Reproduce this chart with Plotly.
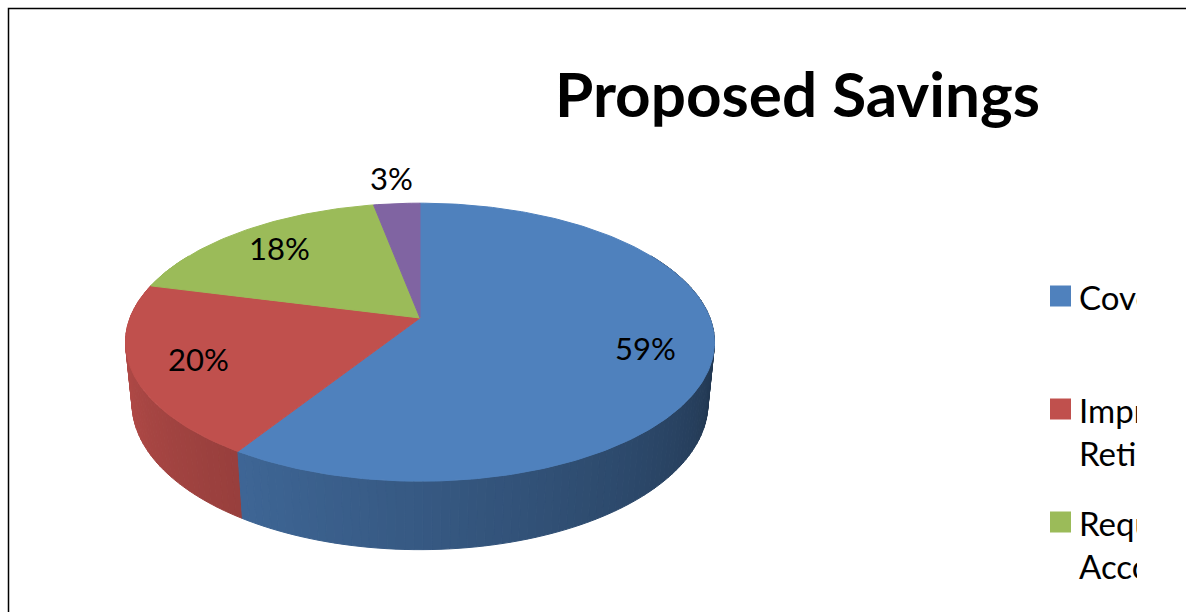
import numpy as np
import plotly.graph_objects as go

# ---- data ----
title_text = "Proposed Savings"
categories = [
    "Coverage Changes",
    "Improve<br>Retirement Age",
    "Require<br>Accountability",
    "Other",
]
values = [59, 20, 18, 3]
colors = ["#4F81BD", "#C0504D", "#9BBB59", "#8064A2"]

# ---- 3D projection of the pie (style constants) ----
W, H = 1186, 612
CLIP_X = 1137          # the chart area ends here (legend text is cut)
CX, CY, K = 420, 318, 290
TILT = np.radians(27.7)
DIST = 5.09
DEPTH = 0.24


def proj(X, Z, Y=0.0):
    yp = Y * np.cos(TILT) - Z * np.sin(TILT)
    zp = Y * np.sin(TILT) + Z * np.cos(TILT)
    s = DIST / (DIST - zp)
    return CX + K * X * s, CY - K * yp * s


def pt(phi_deg, r=1.0, Y=0.0):
    p = np.radians(phi_deg)
    return proj(r * np.sin(p), -r * np.cos(p), Y)


def hex_to_rgb(h):
    h = h.lstrip("#")
    return tuple(int(h[i:i + 2], 16) for i in (0, 2, 4))


def shade(hexc, f):
    r, g, b = hex_to_rgb(hexc)
    return "rgb(%d,%d,%d)" % (int(r * f), int(g * f), int(b * f))


def side_factor(phi):
    t = np.clip((phi - 90.0) / 180.0, 0.0, 1.0)
    return 0.36 + 0.6 * t ** 0.85


total = float(sum(values))
bounds = np.concatenate([[0.0], np.cumsum(values) / total * 360.0])

fig = go.Figure()

# side walls (painter's order: far first)
quads = []
for i in range(len(values)):
    a0, a1 = bounds[i], bounds[i + 1]
    lo, hi = max(a0, 60.0), min(a1, 300.0)
    if hi <= lo:
        continue
    n = max(2, int(np.ceil((hi - lo) / 1.5)))
    angs = np.linspace(lo, hi, n + 1)
    for j in range(n):
        p1, p2 = angs[j], angs[j + 1]
        pm = 0.5 * (p1 + p2)
        depth_key = -np.cos(np.radians(pm))
        xs, ys = [], []
        for (ph, yy) in [(p1, 0.0), (p2, 0.0), (p2, -DEPTH), (p1, -DEPTH)]:
            x, y = pt(ph, 1.0, yy)
            xs.append(x)
            ys.append(y)
        xs.append(xs[0])
        ys.append(ys[0])
        quads.append((depth_key, xs, ys, shade(colors[i], side_factor(pm))))

quads.sort(key=lambda q: q[0])
for _, xs, ys, c in quads:
    fig.add_trace(go.Scatter(x=xs, y=ys, fill="toself", fillcolor=c,
                             mode="lines", line=dict(color=c, width=1),
                             hoverinfo="skip", showlegend=False))

# top faces
for i in range(len(values)):
    a0, a1 = bounds[i], bounds[i + 1]
    angs = np.linspace(a0, a1, max(3, int(np.ceil((a1 - a0) / 1.0)) + 1))
    x0, y0 = pt(0, 0.0)
    xs, ys = [x0], [y0]
    for ph in angs:
        x, y = pt(ph)
        xs.append(x)
        ys.append(y)
    xs.append(x0)
    ys.append(y0)
    fig.add_trace(go.Scatter(x=xs, y=ys, fill="toself", fillcolor=colors[i],
                             mode="lines", line=dict(color=colors[i], width=1),
                             hoverinfo="skip", showlegend=False))

annotations = []
shapes = []

# data labels
for i, v in enumerate(values):
    mid = 0.5 * (bounds[i] + bounds[i + 1])
    pct = v / total * 100
    r = 0.78 if pct >= 5 else 1.27
    x, y = pt(mid, r)
    annotations.append(dict(x=x, y=y, xref="x", yref="y", text="%d%%" % round(pct),
                            showarrow=False, xanchor="center", yanchor="middle",
                            font=dict(family="Lato", size=31, color="black")))

# title
annotations.append(dict(x=797, y=93, xref="x", yref="y", text="<b>%s</b>" % title_text,
                        showarrow=False, xanchor="center", yanchor="middle",
                        font=dict(family="Lato", size=62, color="black")))

# legend (markers + text clipped at the chart area's right edge)
leg_y = [296 + i * 113 for i in range(len(categories))]
for i in range(len(categories)):
    yc = leg_y[i]
    shapes.append(dict(type="rect", xref="x", yref="y", x0=1050, x1=1071,
                       y0=yc - 10.5, y1=yc + 10.5, fillcolor=colors[i],
                       line=dict(width=0)))
fig.add_trace(go.Scatter(
    x=[1079] * len(categories), y=[yc - 11 for yc in leg_y], text=categories,
    mode="text", textposition="bottom right", cliponaxis=True,
    textfont=dict(family="Lato", size=33, color="black"),
    hoverinfo="skip", showlegend=False))

# chart border (extends past the window)
shapes.append(dict(type="rect", xref="paper", yref="paper",
                   x0=8.5 / W, y0=-0.5, x1=1.5, y1=1 - 8.5 / H,
                   line=dict(color="black", width=1.5), fillcolor="rgba(0,0,0,0)"))

fig.update_layout(
    width=W, height=H, autosize=False,
    margin=dict(l=0, r=0, t=0, b=0, pad=0),
    paper_bgcolor="white", plot_bgcolor="white",
    xaxis=dict(range=[0, CLIP_X], domain=[0, CLIP_X / W], visible=False, fixedrange=True),
    yaxis=dict(range=[H, 0], visible=False, fixedrange=True),
    annotations=annotations, shapes=shapes, showlegend=False,
)

fig.write_html("out.html", config={"displayModeBar": False})
